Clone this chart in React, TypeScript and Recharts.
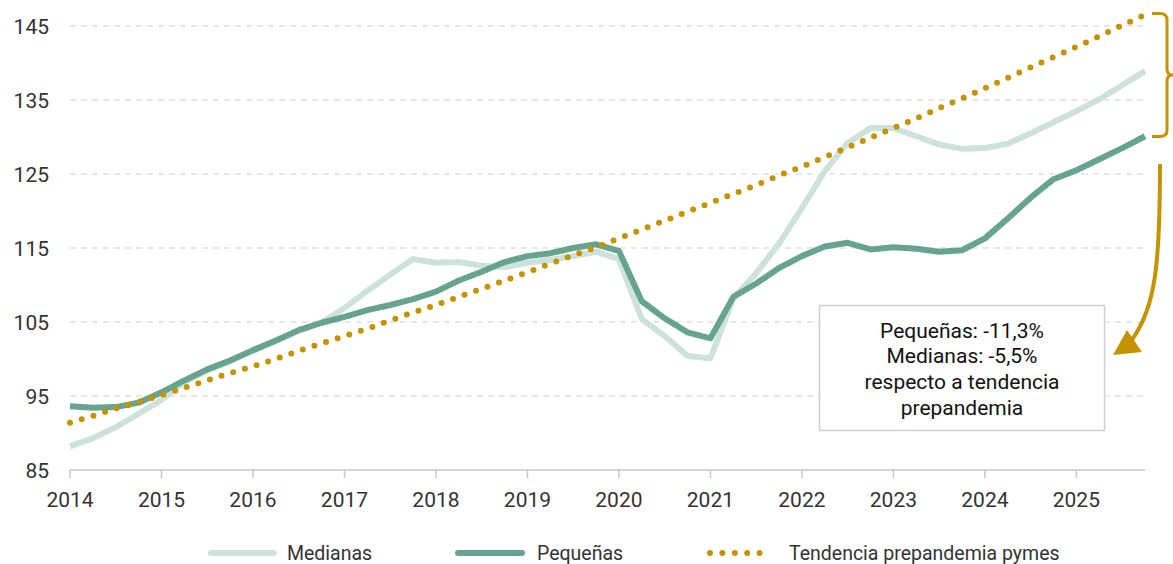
import { LineChart, Line, XAxis, YAxis, CartesianGrid } from 'recharts';

const GOLD = '#c59300';
const DARK = '#67a48e';
const LIGHT = '#cde3da';
const FONT = 'Roboto, "Noto Sans", sans-serif';

// quarterly points, 2014Q1 .. 2025Q4
const quarters = [
  2014, 2014.25, 2014.5, 2014.75, 2015, 2015.25, 2015.5, 2015.75,
  2016, 2016.25, 2016.5, 2016.75, 2017, 2017.25, 2017.5, 2017.75,
  2018, 2018.25, 2018.5, 2018.75, 2019, 2019.25, 2019.5, 2019.75,
  2020, 2020.25, 2020.5, 2020.75, 2021, 2021.25, 2021.5, 2021.75,
  2022, 2022.25, 2022.5, 2022.75, 2023, 2023.25, 2023.5, 2023.75,
  2024, 2024.25, 2024.5, 2024.75, 2025, 2025.25, 2025.5, 2025.75,
];

const medianas = [
  88.2, 89.3, 90.8, 92.6, 94.5, 96.9, 98.4, 99.7,
  101.1, 102.4, 103.8, 104.9, 106.9, 109.2, 111.4, 113.5,
  113.0, 113.1, 112.6, 112.4, 113.0, 113.4, 113.9, 114.5,
  113.5, 105.4, 103.1, 100.4, 100.1, 108.2, 111.6, 115.6,
  120.4, 125.4, 129.2, 131.2, 131.2, 130.1, 129.0, 128.4,
  128.5, 129.1, 130.5, 132.0, 133.5, 135.1, 137.0, 138.9,
];

const pequenas = [
  93.6, 93.4, 93.5, 94.1, 95.5, 97.1, 98.6, 99.8,
  101.2, 102.5, 103.9, 104.9, 105.7, 106.6, 107.3, 108.1,
  109.1, 110.6, 111.8, 113.1, 113.9, 114.3, 115.0, 115.5,
  114.6, 107.8, 105.5, 103.6, 102.8, 108.4, 110.2, 112.3,
  113.9, 115.2, 115.7, 114.8, 115.1, 114.9, 114.5, 114.7,
  116.3, 119.0, 121.8, 124.3, 125.5, 127.0, 128.5, 130.1,
];

const tendencia = [
  91.4, 92.3, 93.3, 94.2, 95.1, 96.1, 97.1, 98.1,
  99.0, 100.0, 101.1, 102.1, 103.1, 104.1, 105.2, 106.3,
  107.3, 108.4, 109.5, 110.6, 111.7, 112.9, 114.0, 115.1,
  116.3, 117.5, 118.7, 119.9, 121.1, 122.3, 123.5, 124.8,
  126.0, 127.3, 128.6, 129.9, 131.2, 132.5, 133.9, 135.2,
  136.6, 138.0, 139.4, 140.8, 142.2, 143.6, 145.1, 146.5,
];

const yearTicks = [2014, 2015, 2016, 2017, 2018, 2019, 2020, 2021, 2022, 2023, 2024, 2025];
const valueTicks = [85, 95, 105, 115, 125, 135, 145];
const yDomain = [85, 147.5];

const noteLines = ['Pequeñas: -11,3%', 'Medianas: -5,5%', 'respecto a tendencia', 'prepandemia'];

const data = quarters.map((t, i) => ({
  t,
  medianas: medianas[i],
  pequenas: pequenas[i],
  tendencia: tendencia[i],
}));

const XTick = ({ x, y, payload }: any) => (
  <text x={x} y={y + 27} textAnchor="middle" fontFamily={FONT} fontSize={21} fill="#333">
    {payload.value}
  </text>
);

const YTick = ({ y, payload }: any) => (
  <text x={49} y={y + 7.5} textAnchor="end" fontFamily={FONT} fontSize={21} fill="#333">
    {payload.value}
  </text>
);

// grid only on the labelled values above the axis (no line at the plot top)
const gridRows = ({ offset }: any) =>
  valueTicks
    .slice(1)
    .map((v) => offset.top + ((yDomain[1] - v) / (yDomain[1] - yDomain[0])) * offset.height);

export default function App() {
  return (
    <div style={{ position: 'relative', width: 1173, height: 564, overflow: 'hidden', background: '#fff' }}>
      <style>{'body{margin:0}'}</style>
      <LineChart width={1173} height={564} data={data} margin={{ top: 7.5, right: 28, left: 0, bottom: 54 }}>
        <CartesianGrid
          vertical={false}
          horizontalCoordinatesGenerator={gridRows}
          stroke="#d2d2d2"
          strokeDasharray="6 5"
          strokeWidth={1.2}
        />
        <XAxis
          dataKey="t"
          type="number"
          domain={[2014, 2025.75]}
          ticks={yearTicks}
          height={40}
          tickSize={8}
          tick={<XTick />}
          axisLine={{ stroke: '#c8c8c8', strokeWidth: 1.5 }}
          tickLine={{ stroke: '#c8c8c8', strokeWidth: 1.5 }}
        />
        <YAxis
          type="number"
          domain={yDomain}
          ticks={valueTicks}
          width={70}
          axisLine={false}
          tickLine={false}
          tick={<YTick />}
        />
        <Line dataKey="medianas" stroke={LIGHT} strokeWidth={6} dot={false} isAnimationActive={false} strokeLinejoin="round" />
        <Line dataKey="pequenas" stroke={DARK} strokeWidth={6} dot={false} isAnimationActive={false} strokeLinejoin="round" />
        <Line
          dataKey="tendencia"
          stroke={GOLD}
          strokeWidth={6}
          strokeDasharray="0 12.2"
          strokeLinecap="round"
          dot={false}
          isAnimationActive={false}
        />
      </LineChart>

      <svg width={1173} height={564} style={{ position: 'absolute', left: 0, top: 0, pointerEvents: 'none' }}>
        {/* brace on the gap */}
        <path
          d="M1152,13.5 L1160,13.5 Q1167,13.5 1167,20 L1167,69 Q1167,75 1173,75 Q1167,75 1167,81 L1167,130 Q1167,136.5 1160,136.5 L1152,136.5"
          fill="none"
          stroke={GOLD}
          strokeWidth={3}
        />
        {/* arrow to the note */}
        <path d="M1160,164 C1160,262 1156,308 1131,341" fill="none" stroke={GOLD} strokeWidth={4} />
        <polygon points="1113,355 1127,330 1142,352" fill={GOLD} />

        {/* note box */}
        <rect x={819.5} y={305.5} width={285} height={125} fill="#fff" stroke="#cfcfcf" strokeWidth={1.5} />
        {noteLines.map((s, i) => (
          <text key={s} x={962} y={337.5 + i * 25.7} textAnchor="middle" fontFamily={FONT} fontSize={21} fill="#111">
            {s}
          </text>
        ))}

        {/* legend */}
        <line x1={211} y1={553} x2={274} y2={553} stroke={LIGHT} strokeWidth={6} strokeLinecap="round" />
        <text x={287} y={560} fontFamily={FONT} fontSize={19.5} fill="#333">Medianas</text>
        <line x1={458} y1={553} x2={522} y2={553} stroke={DARK} strokeWidth={6} strokeLinecap="round" />
        <text x={537} y={560} fontFamily={FONT} fontSize={19.5} fill="#333">Pequeñas</text>
        <line x1={710} y1={553} x2={772} y2={553} stroke={GOLD} strokeWidth={6} strokeDasharray="0 12.4" strokeLinecap="round" />
        <text x={789} y={560} fontFamily={FONT} fontSize={19.5} fill="#333">Tendencia prepandemia pymes</text>
      </svg>
    </div>
  );
}
